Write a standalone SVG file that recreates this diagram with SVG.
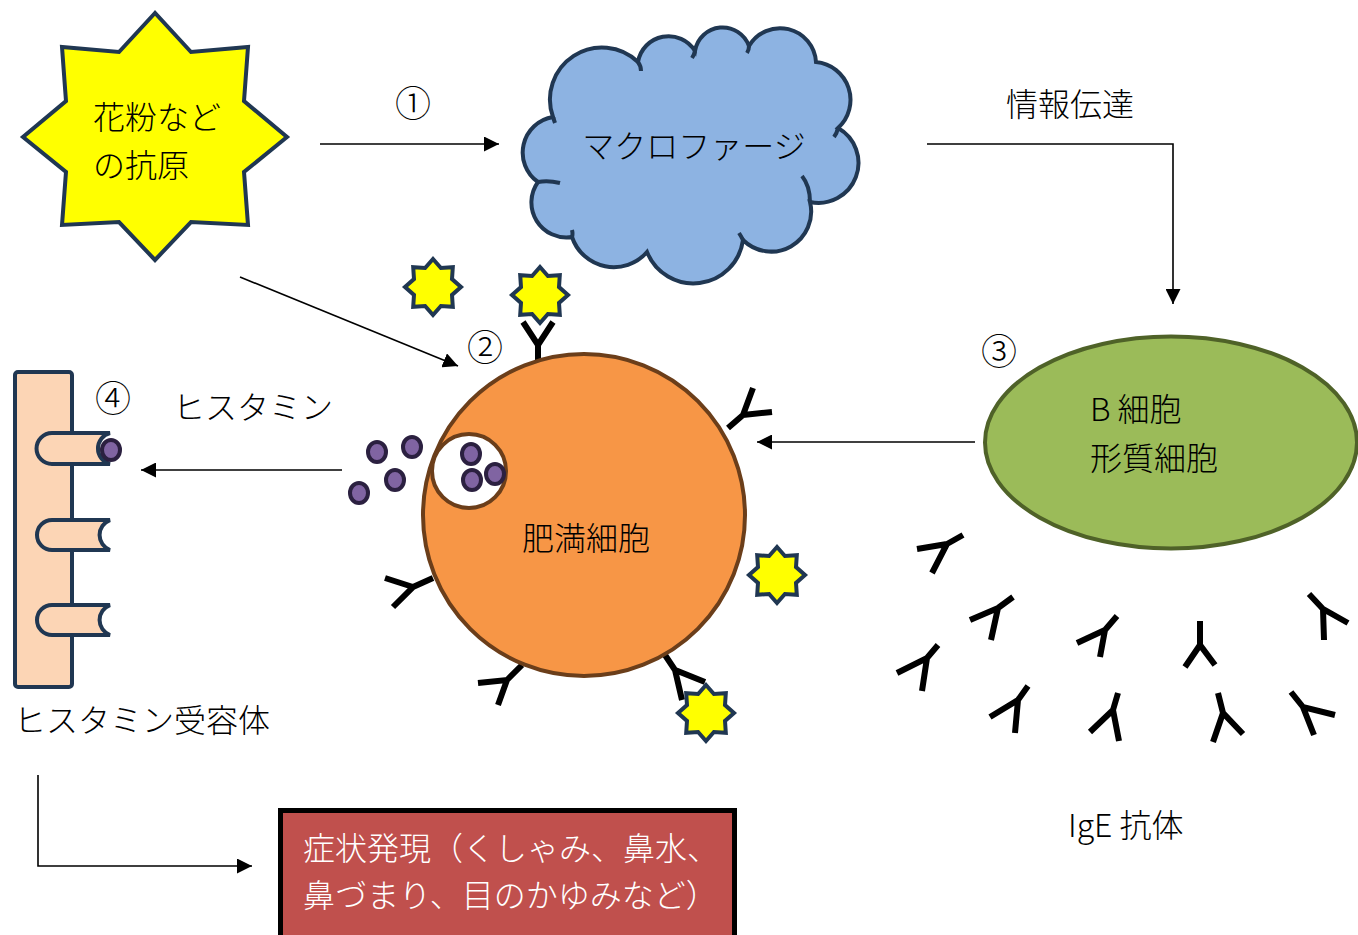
<svg xmlns="http://www.w3.org/2000/svg" width="1358" height="935" viewBox="0 0 1358 935">
  <defs>
    <style>
      text { font-family: "Noto Sans CJK JP", "Noto Sans", sans-serif; font-size: 32px; font-weight: 300; fill: #000; }
      .num { font-size: 36px; }
      .navy { stroke: #203752; stroke-width: 4; stroke-linejoin: miter; }
      .conn { stroke: #000; stroke-width: 1.6; fill: none; }
      .ab { stroke: #000; stroke-width: 6; fill: none; stroke-linejoin: miter; }
      .gran { fill: #8064a2; stroke: #2b2040; stroke-width: 4; }
      .star { fill: #ffff00; stroke: #203752; stroke-width: 4; }
    </style>
    <marker id="arrow" markerUnits="userSpaceOnUse" markerWidth="15" markerHeight="15" refX="15" refY="7.5" orient="auto">
      <path d="M0,0 L15,7.5 L0,15 Z" fill="#000"/>
    </marker>
    <polygon id="s8" points="0,-28 7.9,-19 19.8,-19.8 19,-7.9 28,0 19,7.9 19.8,19.8 7.9,19 0,28 -7.9,19 -19.8,19.8 -19,7.9 -28,0 -19,-7.9 -19.8,-19.8 -7.9,-19"/>
  </defs>

  <!-- connectors -->
  <g id="connectors">
    <line class="conn" x1="320" y1="144" x2="499" y2="144" marker-end="url(#arrow)"/>
    <polyline class="conn" points="927,144 1173,144 1173,304" marker-end="url(#arrow)"/>
    <line class="conn" x1="240" y1="277" x2="458" y2="366" marker-end="url(#arrow)"/>
    <line class="conn" x1="975" y1="442" x2="757" y2="442" marker-end="url(#arrow)"/>
    <line class="conn" x1="342" y1="470" x2="141" y2="470" marker-end="url(#arrow)"/>
    <polyline class="conn" points="38,775 38,866 252,866" marker-end="url(#arrow)"/>
  </g>

  <!-- pollen antigen -->
  <g id="antigen">
    <polygon class="star" points="155,13 119,52 62,47 66,101 23,137 66,172 62,225 119,222 155,260 191,222 248,225 244,172 287,137 244,101 248,47 191,52"/>
    <text x="93" y="129">花粉など</text>
    <text x="93" y="177">の抗原</text>
  </g>

  <!-- macrophage -->
  <g id="macrophage">
    <path fill="#8db3e2" class="navy" d="M553,117 A52,52 0 0 1 638,62 A31,31 0 0 1 695,51 A28,28 0 0 1 749,46 A36,36 0 0 1 816,62 A38,38 0 0 1 838,128 A40,40 0 0 1 810,202 A40,40 0 0 1 743,240 A50,50 0 0 1 647,252 A44,44 0 0 1 572,237 A35,35 0 0 1 538,182 A36,36 0 0 1 553,117 Z"/>
    <path fill="none" class="navy" d="M638,62 q3,4 3,9 M695,51 q-1,4 -3,7 M749,46 q0,4 -2,7 M838,128 q-1,5 -4,9 M802,176 q8,10 8,26 M743,240 q-2,-4 -4,-7 M572,237 q1,-3 0,-7 M538,182 q10,-2 22,1 M553,117 q1,3 2,6"/>
    <text x="694" y="158" text-anchor="middle">マクロファージ</text>
  </g>

  <g id="label-info">
    <text x="1006" y="116">情報伝達</text>
  </g>
  <g id="label-1"><text class="num" x="413" y="117" text-anchor="middle">①</text></g>
  <g id="label-2"><text class="num" x="485" y="361" text-anchor="middle">②</text></g>
  <g id="label-3"><text class="num" x="999" y="365" text-anchor="middle">③</text></g>
  <g id="label-4"><text class="num" x="113" y="412" text-anchor="middle">④</text></g>

  <!-- B cell / plasma cell -->
  <g id="b-cell">
    <ellipse cx="1171" cy="442.5" rx="186" ry="106" fill="#9bbb59" stroke="#4f6228" stroke-width="4"/>
    <text x="1090" y="421">B 細胞</text>
    <text x="1090" y="470">形質細胞</text>
  </g>

  <!-- IgE antibodies -->
  <g id="ige">
    <path class="ab" d="M917,549 L947,544 L932,573 M947,544 L963,535"/>
    <path class="ab" d="M970,620 L998,608 L991,640 M998,608 L1013,597"/>
    <path class="ab" d="M1077,643 L1105,630 L1100,657 M1105,630 L1117,616"/>
    <path class="ab" d="M1185,667 L1200,645 L1215,665 M1200,645 L1200,621"/>
    <path class="ab" d="M1348,623 L1323,609 L1324,640 M1323,609 L1309,594"/>
    <path class="ab" d="M897,673 L927,658 L922,691 M927,658 L938,645"/>
    <path class="ab" d="M990,717 L1018,700 L1015,733 M1018,700 L1028,686"/>
    <path class="ab" d="M1090,732 L1113,710 L1119,741 M1113,710 L1118,693"/>
    <path class="ab" d="M1213,742 L1223,713 L1243,734 M1223,713 L1218,693"/>
    <path class="ab" d="M1335,715 L1303,707 L1314,735 M1303,707 L1291,692"/>
    <text x="1068" y="837">IgE 抗体</text>
  </g>

  <!-- mast cell with bound antibodies and antigens -->
  <g id="mast-cell">
    <path class="ab" d="M523,322 L538,345 L553,322 M538,345 L538,362"/>
    <path class="ab" d="M753,388 L743,415 L772,412 M743,415 L728,428"/>
    <path class="ab" d="M682,700 L675,670 L705,682 M675,670 L665,655"/>
    <path class="ab" d="M385,578 L413,587 L393,607 M413,587 L433,578"/>
    <path class="ab" d="M478,683 L507,680 L498,705 M507,680 L522,665"/>
    <circle cx="584" cy="515" r="161" fill="#f79646" stroke="#6b3e1a" stroke-width="4"/>
    <circle cx="469" cy="471" r="37" fill="#ffffff" stroke="#6b3e1a" stroke-width="4"/>
    <ellipse class="gran" cx="471" cy="454" rx="9" ry="10"/>
    <ellipse class="gran" cx="472" cy="480" rx="9" ry="10"/>
    <ellipse class="gran" cx="495" cy="474" rx="9" ry="10"/>
    <text x="522" y="550">肥満細胞</text>
  </g>

  <g id="small-antigens">
    <use href="#s8" class="star" x="433" y="287"/>
    <use href="#s8" class="star" x="540" y="295"/>
    <use href="#s8" class="star" x="777" y="575"/>
    <use href="#s8" class="star" x="706" y="713"/>
  </g>

  <!-- released histamine -->
  <g id="histamine">
    <ellipse class="gran" cx="377" cy="452" rx="9" ry="10"/>
    <ellipse class="gran" cx="412" cy="447" rx="9" ry="10"/>
    <ellipse class="gran" cx="395" cy="480" rx="9" ry="10"/>
    <ellipse class="gran" cx="359" cy="493" rx="9" ry="10"/>
    <text x="173" y="419">ヒスタミン</text>
  </g>

  <!-- histamine receptor -->
  <g id="receptor">
    <rect x="15" y="372" width="57" height="315" rx="3" fill="#fcd5b5" class="navy"/>
    <path fill="#fcd5b5" class="navy" d="M52,433 H110 A16,16 0 0 0 110,464 H52 A15.5,15.5 0 0 1 52,433 Z"/>
    <path fill="#fcd5b5" class="navy" d="M52,520 H110 A16,16 0 0 0 110,550 H52 A15,15 0 0 1 52,520 Z"/>
    <path fill="#fcd5b5" class="navy" d="M52,605 H110 A16,16 0 0 0 110,635 H52 A15,15 0 0 1 52,605 Z"/>
    <ellipse class="gran" cx="111" cy="450" rx="9" ry="10"/>
    <text x="14" y="732">ヒスタミン受容体</text>
  </g>

  <!-- symptoms -->
  <g id="symptoms">
    <rect x="280.5" y="810.5" width="454" height="140" fill="#c0504d" stroke="#000" stroke-width="5"/>
    <text x="303" y="860" style="fill:#fff">症状発現（くしゃみ、鼻水、</text>
    <text x="303" y="907" style="fill:#fff">鼻づまり、目のかゆみなど）</text>
  </g>
</svg>
